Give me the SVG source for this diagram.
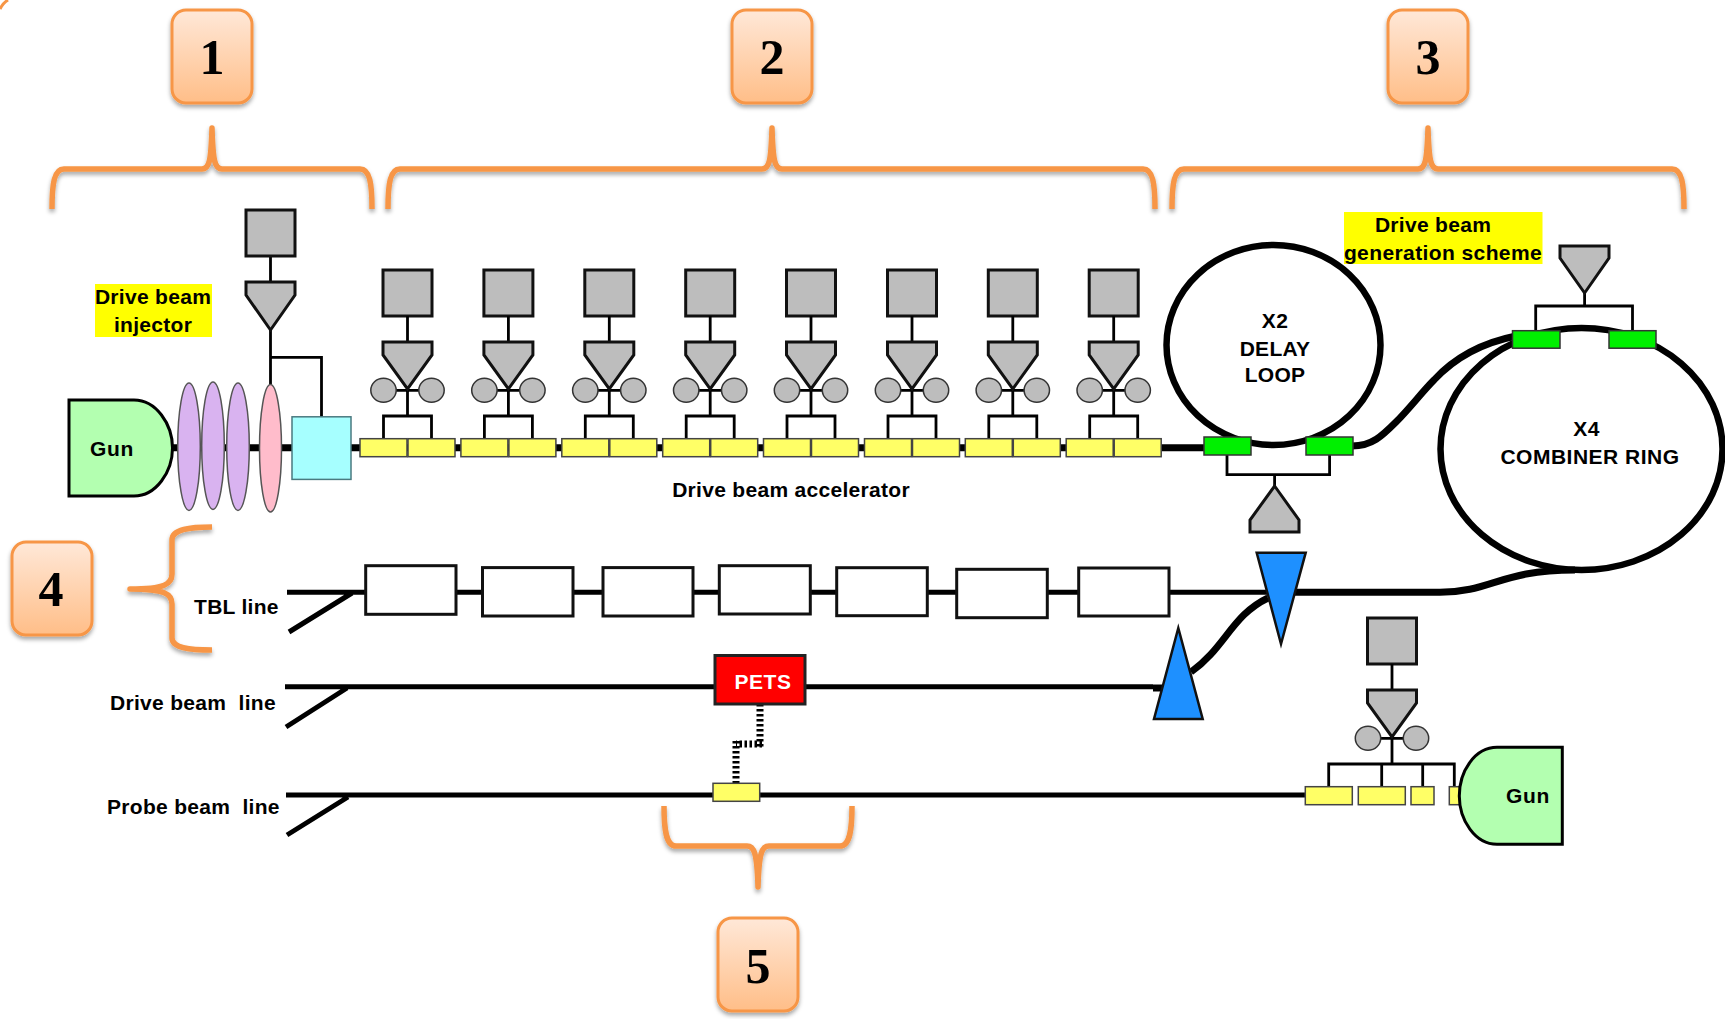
<svg xmlns="http://www.w3.org/2000/svg" width="1725" height="1019" viewBox="0 0 1725 1019">
<style>
text{font-family:"Liberation Sans",Arial,sans-serif;font-weight:700;font-size:21px;fill:#000;white-space:pre;letter-spacing:.3px}
.mid{text-anchor:middle}
.num{font-family:"Liberation Serif","Times New Roman",serif;font-size:50px;text-anchor:middle;letter-spacing:0}
.box{fill:url(#peach);stroke:#f79646;stroke-width:3;filter:url(#sh)}
.brace{fill:none;stroke:#f79646;stroke-width:5.5;stroke-linejoin:round;filter:url(#sh)}
.gray{fill:#bdbdbd;stroke:#111;stroke-width:3}
.circ{fill:#bdbdbd;stroke:#333;stroke-width:1.5}
.yel{fill:#ffff66;stroke:#444;stroke-width:1.5}
.grn{fill:#00f000;stroke:#333;stroke-width:1.5}
.thin{fill:none;stroke:#000;stroke-width:2.8}
.beam{fill:none;stroke:#000;stroke-width:5}
.thick{fill:none;stroke:#000;stroke-width:7}
.loop{fill:none;stroke:#000;stroke-width:6.5}
.rf{fill:#fff;stroke:#111;stroke-width:3}
.blue{fill:#1e90ff;stroke:#111;stroke-width:2.5}
.gun{fill:#b3ffb0;stroke:#000;stroke-width:3}
.hl{fill:#ffff00}
.bun{fill:#d9b3f0;stroke:#555;stroke-width:1.5}
</style>
<defs>
<linearGradient id="peach" x1="0" y1="0" x2="0" y2="1"><stop offset="0" stop-color="#ffe8d8"/><stop offset="1" stop-color="#ffbe88"/></linearGradient>
<filter id="sh" x="-20%" y="-20%" width="140%" height="140%"><feDropShadow dx="0" dy="3" stdDeviation="2" flood-color="#000" flood-opacity="0.35"/></filter>
<g id="klystron">
<rect class="gray" x="-24.5" y="270" width="49" height="46"/>
<path class="thin" d="M0 316V342M-24 390.3H24M0 389V416"/>
<path class="gray" d="M-24.5 342H24.5V355L0 389L-24.5 355Z"/>
<ellipse class="circ" cx="-24" cy="390.3" rx="12.7" ry="12"/>
<ellipse class="circ" cx="24" cy="390.3" rx="12.7" ry="12"/>
</g>
<g id="unit">
<use href="#klystron"/>
<path class="thin" d="M-24 439V416H24V439"/>
<rect class="yel" x="-47.5" y="438.7" width="47" height="18"/>
<rect class="yel" x="0.5" y="438.7" width="47" height="18"/>
</g>
</defs>
<rect width="1725" height="1019" fill="#fff"/>

<g id="connectors">
<path class="thick" d="M173 447.700H1206"/>
<path class="thick" d="M1352 446C1372 446 1382 436 1396 422C1410 408 1422 392 1434 380C1458 354 1486 342 1516 336"/>
<path class="beam" d="M287 592.3H1268M352 593L289 632"/>
<path class="thick" d="M1295 592.3H1440C1492 592 1500 570 1575 570"/>
<path class="thick" d="M1191 672C1225 648 1232 615 1268 598"/>
<path class="beam" d="M285 686.7H1153M347 688L286 727"/>
<path class="thick" d="M1153 688H1164"/>
<path class="beam" d="M286 795H1306M348 797L287 835"/>
<path fill="none" stroke="#000" stroke-width="7" stroke-dasharray="2.5 2.5" d="M760 704V748M762 744H736M736 741V783"/>
<path class="thin" d="M270.500 256V282M270.500 330V385M270.500 357.300H321.500V417"/>
<path class="thin" d="M1227 455V474.7H1329.6V455M1274.6 474.7V486"/>
<path class="thin" d="M1535.7 331V306H1632.5V331M1584.6 306V293"/>
<path class="thin" d="M1328.7 787V764H1454.3V787M1381.7 764V787M1422.7 764V787"/>
<path d="M0 9Q3 3 8 0" fill="none" stroke="#f79646" stroke-width="3"/>
</g>

<g id="box1"><rect class="box" x="172" y="10" width="80" height="93" rx="14"/><text class="num" x="212" y="74">1</text></g>
<g id="box2"><rect class="box" x="732" y="10" width="80" height="93" rx="14"/><text class="num" x="772" y="74">2</text></g>
<g id="box3"><rect class="box" x="1388" y="10" width="80" height="93" rx="14"/><text class="num" x="1428" y="74">3</text></g>
<g id="box4"><rect class="box" x="12" y="542" width="80" height="93" rx="14"/><text class="num" x="51" y="606">4</text></g>
<g id="box5"><rect class="box" x="718" y="918" width="80" height="93" rx="14"/><text class="num" x="758" y="983">5</text></g>

<g id="brace1"><path class="brace" d="M52 209C52 184 54 169 64 169H202C209 169 211 162 212 128C213 162 215 169 222 169H360C370 169 372 184 372 209"/></g>
<g id="brace2"><path class="brace" d="M388 209C388 184 390 169 400 169H762C769 169 771 162 772 128C773 162 775 169 782 169H1143C1153 169 1155 184 1155 209"/></g>
<g id="brace3"><path class="brace" d="M1172 209C1172 184 1174 169 1184 169H1418C1425 169 1427 162 1428 128C1429 162 1431 169 1438 169H1672C1682 169 1684 184 1684 209"/></g>
<g id="brace4"><path class="brace" d="M212 527C190 527 172 529 172 540V574C172 584 165 589 130 589C165 589 172 594 172 604V638C172 648 190 650 212 650"/></g>
<g id="brace5"><path class="brace" d="M664 806C664 830 666 846 676 846H747C754 846 757 852 758 887C759 852 762 846 769 846H840C850 846 852 830 852 806"/></g>

<g id="gun1"><path class="gun" d="M69 400H134C156 400 172.500 424 172.500 448C172.500 472 156 496 134 496H69Z"/><text class="mid" x="112" y="455.500" style="letter-spacing:.6px">Gun</text></g>
<g id="bunchers">
<ellipse class="bun" cx="189" cy="446.700" rx="11.300" ry="63.700"/>
<ellipse class="bun" cx="213" cy="445.700" rx="11.300" ry="63.700"/>
<ellipse class="bun" cx="238" cy="446.700" rx="11.300" ry="63.700"/>
<ellipse cx="270.500" cy="448.300" rx="11" ry="63.700" fill="#ffbccb" stroke="#555" stroke-width="1.500"/>
</g>
<g id="buncher-cavity"><rect x="292" y="416.800" width="59" height="62.600" fill="#a6ffff" stroke="#4a7a80" stroke-width="1.500"/></g>
<g id="injector-klystron">
<rect class="gray" x="246" y="210" width="49" height="46"/>
<path class="gray" d="M246 282H295V295L270.500 330L246 295Z"/>
</g>
<g id="label-injector"><rect class="hl" x="95" y="284" width="117" height="53"/><text class="mid" x="153" y="304">Drive beam</text><text class="mid" x="153" y="332">injector</text></g>

<g id="unit1"><use href="#unit" x="407.500"/></g>
<g id="unit2"><use href="#unit" x="508.400"/></g>
<g id="unit3"><use href="#unit" x="609.300"/></g>
<g id="unit4"><use href="#unit" x="710.200"/></g>
<g id="unit5"><use href="#unit" x="811"/></g>
<g id="unit6"><use href="#unit" x="912"/></g>
<g id="unit7"><use href="#unit" x="1012.800"/></g>
<g id="unit8"><use href="#unit" x="1113.700"/></g>
<text class="mid" x="791" y="497">Drive beam accelerator</text>

<g id="delay-loop">
<ellipse class="loop" cx="1273.500" cy="345" rx="107" ry="100"/>
<text class="mid" x="1275" y="328">X2</text><text class="mid" x="1275" y="356">DELAY</text><text class="mid" x="1275" y="382">LOOP</text>
<rect class="grn" x="1204" y="437" width="47" height="18"/>
<rect class="grn" x="1306" y="437" width="47" height="18"/>
<path class="gray" d="M1274.600 486L1299 520V532H1250V520Z"/>
</g>
<g id="combiner-ring">
<ellipse class="loop" cx="1581.500" cy="449" rx="141" ry="121"/>
<text class="mid" x="1586.500" y="436">X4</text><text class="mid" x="1590" y="464" style="letter-spacing:.5px">COMBINER RING</text>
<rect class="grn" x="1512.500" y="330.700" width="47.500" height="17.500"/>
<rect class="grn" x="1609" y="330.700" width="47" height="17.500"/>
<path class="gray" d="M1560 246H1609V258L1584.600 293L1560 258Z"/>
</g>
<g id="label-generation"><rect class="hl" x="1344" y="212" width="198.500" height="52"/><text class="mid" x="1433" y="232">Drive beam</text><text class="mid" x="1443" y="260" style="letter-spacing:.4px">generation scheme</text></g>

<g id="tbl-structures">
<rect class="rf" x="365.700" y="565.700" width="90.300" height="48.600"/>
<rect class="rf" x="482.500" y="567.600" width="90.500" height="48.400"/>
<rect class="rf" x="603" y="567.600" width="90" height="48.400"/>
<rect class="rf" x="719.300" y="565.700" width="91" height="48.300"/>
<rect class="rf" x="836.700" y="567.700" width="90.600" height="48"/>
<rect class="rf" x="956.700" y="569.300" width="90.600" height="48.400"/>
<rect class="rf" x="1078.700" y="568" width="90.300" height="48"/>
</g>
<g id="septum-down"><path class="blue" d="M1256.700 552.700H1305.700L1281 644Z"/></g>
<g id="septum-up"><path class="blue" d="M1178.300 628L1202.700 719H1154Z"/></g>
<g id="pets"><rect x="715" y="655.500" width="90" height="48.500" fill="#ff0000" stroke="#222" stroke-width="3"/><text class="mid" x="763" y="689" style="fill:#fff;letter-spacing:.6px">PETS</text></g>
<g id="probe-cell"><rect class="yel" x="713" y="783.300" width="46.700" height="18"/></g>
<g id="probe-klystron"><use href="#klystron" x="1392" y="348"/></g>
<g id="probe-cells">
<rect class="yel" x="1305.300" y="786.700" width="47" height="18"/>
<rect class="yel" x="1358.300" y="786.700" width="47" height="18"/>
<rect class="yel" x="1411" y="786.700" width="23" height="18"/>
<rect class="yel" x="1449.300" y="786.700" width="14" height="18"/>
</g>
<g id="gun2"><path class="gun" d="M1562.300 747.300H1497C1475 747.300 1459.300 771 1459.300 796C1459.300 820 1475 844.300 1497 844.300H1562.300Z"/><text class="mid" x="1528" y="803" style="letter-spacing:.6px">Gun</text></g>

<g id="line-labels">
<text x="194" y="614">TBL line</text>
<text x="110" y="710">Drive beam  line</text>
<text x="107" y="814">Probe beam  line</text>
</g>
</svg>
